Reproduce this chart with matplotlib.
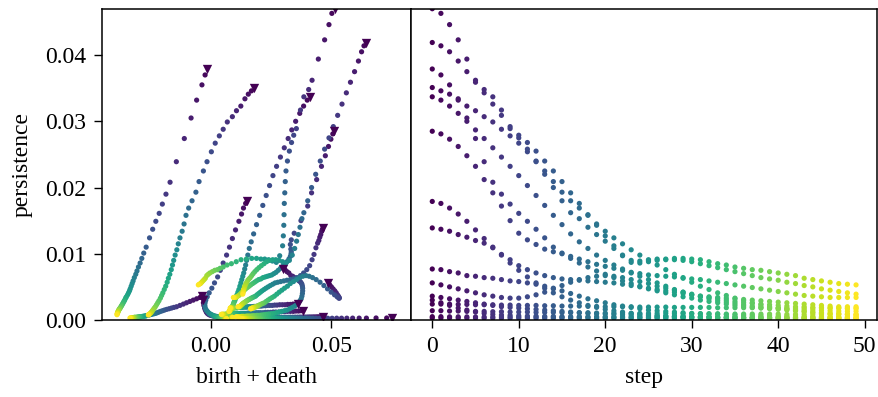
import numpy as np
import matplotlib
matplotlib.use('Agg')
import matplotlib.pyplot as plt

plt.rcParams['font.family'] = ['Liberation Serif', 'DejaVu Serif']
plt.rcParams['font.size'] = 17

# persistence (p) and birth + death (bd) of each tracked feature, per step, in units of 1e-3
p_a = [47.0, 46.3, 44.6, 42.3, 39.4, 36.2, 34.8, 33.7, 31.7, 28.9,
       27.9, 26.8, 25.5, 24.0, 22.5, 20.9, 19.2, 17.6, 15.9, 14.3,
       12.7, 11.2, 9.7, 8.7, 8.9, 9.1, 9.2, 9.2, 9.3, 9.3,
       9.2, 9.1, 8.8, 8.5, 8.3, 8.0, 7.8, 7.6, 7.5, 7.3,
       7.1, 6.9, 6.7, 6.3, 6.1, 5.9, 5.7, 5.5, 5.4, 5.3]
bd_a = [51.4, 50.2, 49.0, 47.2, 44.6, 42.0, 40.6, 38.6, 37.2, 35.5,
        34.4, 33.5, 32.6, 31.8, 31.2, 30.9, 30.7, 30.5, 30.4, 30.3,
        30.1, 29.8, 28.6, 27.2, 25.6, 24.0, 22.4, 20.8, 19.0, 17.0,
        14.8, 12.6, 10.6, 8.6, 6.8, 5.2, 3.9, 2.8, 1.7, 0.7,
        -0.3, -1.0, -1.6, -2.2, -2.7, -3.2, -3.7, -4.2, -4.7, -5.1]

p_b = [41.9, 41.4, 40.5, 39.1, 37.5, 35.9, 34.3, 32.6, 30.9, 29.2,
       27.5, 25.8, 24.0, 22.0, 20.0, 18.0, 16.2, 15.3, 14.0, 12.9,
       11.9, 10.8, 9.8, 9.0, 8.6, 8.8, 9.0, 9.1, 9.1, 9.0,
       8.8, 8.5, 8.2, 7.9, 7.6, 7.3, 7.0, 6.7, 6.4, 6.2,
       6.0, 5.7, 5.5, 5.2, 5.0, 4.7, 4.5, 4.3, 4.1, 3.9]
bd_b = [64.2, 63.5, 62.5, 61.2, 59.6, 57.9, 56.2, 54.4, 52.6, 50.8,
        49.0, 47.2, 45.4, 43.5, 41.8, 40.2, 38.6, 37.8, 37.0, 36.3,
        35.6, 34.8, 33.8, 32.6, 31.2, 29.8, 28.4, 27.0, 25.7, 24.4,
        23.2, 22.1, 21.0, 20.0, 19.1, 18.3, 17.6, 17.0, 16.4, 15.9,
        15.4, 15.0, 14.6, 14.3, 14.0, 13.8, 13.6, 13.5, 13.4, 13.3]

p_c = [37.9, 37.0, 35.5, 33.2, 30.5, 27.4, 23.9, 20.8, 19.0, 17.5,
       16.1, 14.9, 13.7, 12.4, 11.0, 10.1, 9.3, 8.6, 8.0, 7.4,
       6.9, 6.4, 5.9, 5.5, 5.1, 4.7, 4.4, 4.1, 3.8, 3.5,
       3.3, 3.0, 2.8, 2.6, 2.4, 2.2, 2.1, 1.9, 1.8, 1.7,
       1.6, 1.5, 1.4, 1.3, 1.2, 1.1, 1.05, 1.0, 0.9, 0.8]
bd_c = [-1.6, -2.3, -3.6, -5.8, -8.1, -10.9, -14.2, -16.8, -18.5, -20.0,
        -21.3, -22.7, -24.0, -25.3, -26.7, -27.7, -28.5, -29.2, -29.9, -30.5,
        -31.0, -31.6, -32.1, -32.5, -32.9, -33.3, -33.6, -34.0, -34.4, -34.9,
        -35.2, -35.6, -35.9, -36.2, -36.5, -36.8, -37.0, -37.3, -37.5, -37.7,
        -37.9, -38.0, -38.2, -38.3, -38.4, -38.5, -38.6, -38.6, -38.7, -38.8]

p_d = [35.1, 34.6, 34.1, 33.4, 32.3, 31.6, 30.7, 29.9, 28.8, 27.8,
       26.7, 25.4, 23.9, 22.5, 20.9, 19.3, 18.0, 16.9, 15.8, 14.5,
       13.4, 12.4, 11.5, 10.6, 9.8, 9.0, 8.3, 7.6, 6.9, 6.3,
       5.7, 5.1, 4.6, 4.1, 3.7, 3.3, 2.9, 2.6, 2.3, 2.0,
       1.8, 1.6, 1.4, 1.25, 1.1, 1.0, 0.9, 0.85, 0.8, 0.76]
bd_d = [18.0, 16.9, 15.6, 14.2, 12.5, 10.7, 9.0, 6.9, 5.2, 3.6,
        1.9, 0.3, -1.5, -3.0, -4.8, -6.1, -7.7, -9.1, -10.2, -11.0,
        -11.8, -12.7, -13.4, -14.0, -14.7, -15.3, -15.8, -16.3, -16.9, -17.5,
        -18.0, -18.6, -19.2, -19.8, -20.3, -20.8, -21.4, -21.9, -22.4, -22.9,
        -23.3, -23.7, -24.1, -24.4, -24.7, -25.0, -25.3, -25.5, -25.7, -25.8]

p_e = [33.7, 33.2, 32.3, 31.2, 30.0, 28.7, 27.4, 26.0, 24.6, 23.2,
       21.8, 20.3, 18.8, 17.3, 15.8, 14.4, 13.0, 11.8, 10.8, 9.8,
       9.0, 8.3, 7.7, 7.1, 6.6, 6.1, 5.6, 5.1, 4.6, 4.2,
       3.8, 3.5, 3.2, 2.9, 2.7, 2.5, 2.3, 2.1, 2.0, 1.9,
       1.8, 1.7, 1.6, 1.55, 1.5, 1.45, 1.4, 1.35, 1.3, 1.3]
bd_e = [41.3, 40.0, 38.5, 36.9, 35.2, 33.6, 32.1, 30.5, 28.9, 27.3,
        25.8, 24.4, 23.0, 21.6, 20.3, 19.0, 17.8, 16.8, 16.0, 15.4,
        14.9, 14.5, 14.1, 13.7, 13.3, 12.9, 12.5, 12.1, 11.7, 11.3,
        10.9, 10.6, 10.3, 10.0, 9.7, 9.5, 9.3, 9.1, 8.9, 8.7,
        8.5, 8.4, 8.3, 8.2, 8.1, 8.0, 7.9, 7.8, 7.7, 7.6]

p_f = [28.5, 28.1, 27.3, 26.2, 24.8, 23.2, 21.2, 19.2, 17.2, 15.0,
       13.1, 12.1, 11.4, 10.7, 10.3, 10.0, 9.6, 9.2, 8.8, 8.4,
       8.1, 7.8, 7.5, 7.2, 7.0, 6.8, 6.7, 6.6, 6.5, 6.4,
       6.2, 6.1, 5.9, 5.7, 5.5, 5.3, 5.1, 4.9, 4.7, 4.5,
       4.3, 4.1, 3.9, 3.7, 3.6, 3.5, 3.4, 3.4, 3.4, 3.4]
bd_f = [51.1, 50.6, 49.8, 48.8, 47.5, 45.9, 43.9, 41.8, 40.2, 37.4,
        34.6, 33.4, 33.0, 33.2, 33.4, 33.3, 33.0, 32.4, 31.6, 30.7,
        29.8, 28.9, 28.0, 27.1, 26.2, 25.3, 24.4, 23.5, 22.6, 21.7,
        20.8, 19.9, 19.0, 18.2, 17.4, 16.6, 15.9, 15.2, 14.5, 13.9,
        13.3, 12.7, 12.2, 11.7, 11.2, 10.8, 10.4, 10.0, 9.7, 9.4]

p_g = [17.9, 17.6, 16.9, 16.0, 14.9, 13.6, 12.3, 11.0, 9.8, 8.6,
       7.5, 6.5, 5.6, 4.8, 4.1, 3.5, 3.0, 2.6, 2.2, 1.9,
       1.6, 1.4, 1.2, 1.0, 0.9, 0.8, 0.7, 0.6, 0.55, 0.5,
       0.45, 0.4, 0.4, 0.35, 0.35, 0.3, 0.3, 0.3, 0.3, 0.25,
       0.25, 0.25, 0.25, 0.2, 0.2, 0.2, 0.2, 0.2, 0.2, 0.2]
bd_g = [14.9, 14.5, 13.6, 12.8, 11.7, 10.3, 9.0, 7.8, 6.6, 5.2,
        4.0, 2.9, 1.6, 0.5, -0.6, -1.4, -2.0, -2.3, -2.4, -2.3,
        -2.0, -1.6, -1.1, -0.6, -0.1, 0.4, 0.9, 1.4, 1.8, 2.2,
        2.6, 3.0, 3.4, 3.7, 4.0, 4.3, 4.6, 4.9, 5.1, 5.3,
        5.5, 5.7, 5.9, 6.0, 6.1, 6.2, 6.3, 6.4, 6.5, 6.6]

p_h = [13.9, 13.7, 13.4, 12.9, 12.5, 12.0, 11.6, 10.9, 9.9, 9.1,
       8.2, 7.6, 7.1, 6.7, 6.4, 6.2, 6.1, 6.0, 5.9, 5.8,
       5.7, 5.6, 5.4, 5.2, 5.0, 4.8, 4.6, 4.4, 4.2, 4.0,
       3.8, 3.6, 3.5, 3.4, 3.3, 3.2, 3.1, 3.0, 2.9, 2.8,
       2.7, 2.6, 2.5, 2.4, 2.3, 2.2, 2.1, 2.0, 2.0, 2.0]
bd_h = [46.5, 46.3, 46.0, 45.6, 45.2, 44.8, 44.3, 43.6, 42.8, 42.0,
        41.0, 39.8, 38.5, 37.2, 35.8, 34.4, 33.0, 31.6, 30.3, 29.0,
        27.8, 26.7, 25.7, 24.7, 23.8, 22.9, 22.1, 21.3, 20.6, 19.9,
        19.2, 18.6, 18.0, 17.4, 16.9, 16.4, 15.9, 15.4, 15.0, 14.6,
        14.2, 13.8, 13.4, 13.1, 12.8, 12.5, 12.2, 11.9, 11.6, 11.3]

p_i = [7.7, 7.6, 7.3, 7.1, 6.7, 6.6, 6.4, 6.3, 6.1, 5.9,
       5.8, 5.6, 5.4, 5.1, 4.8, 4.4, 4.0, 3.6, 3.2, 2.9,
       2.6, 2.3, 2.1, 1.9, 1.7, 1.5, 1.4, 1.3, 1.2, 1.1,
       1.0, 0.95, 0.9, 0.85, 0.8, 0.75, 0.7, 0.7, 0.65, 0.65,
       0.6, 0.6, 0.6, 0.55, 0.55, 0.55, 0.5, 0.5, 0.5, 0.5]
bd_i = [30.0, 30.8, 31.6, 32.4, 33.2, 34.0, 34.7, 35.4, 36.0, 36.6,
        37.1, 37.5, 37.8, 38.0, 38.1, 38.1, 38.0, 37.8, 37.5, 37.0,
        36.4, 35.6, 34.8, 33.8, 32.8, 31.7, 30.6, 29.5, 28.4, 27.3,
        26.2, 25.1, 24.0, 23.0, 22.0, 21.0, 20.1, 19.2, 18.3, 17.5,
        16.7, 15.9, 15.1, 14.4, 13.7, 13.0, 12.4, 11.8, 11.2, 10.6]

p_j = [5.6, 5.3, 5.0, 4.7, 4.4, 4.1, 3.8, 3.6, 3.4, 3.3,
       3.3, 3.5, 3.8, 4.2, 4.7, 5.2, 5.7, 6.1, 6.4, 6.6,
       6.7, 6.6, 6.4, 6.1, 5.8, 5.5, 5.1, 4.8, 4.5, 4.2,
       3.9, 3.6, 3.4, 3.2, 3.0, 2.8, 2.6, 2.5, 2.4, 2.3,
       2.2, 2.1, 2.0, 2.0, 1.9, 1.9, 1.8, 1.8, 1.7, 1.7]
bd_j = [48.6, 49.3, 50.0, 50.7, 51.4, 52.0, 52.5, 52.9, 53.2, 53.3,
        53.1, 52.4, 51.3, 49.9, 48.4, 46.9, 45.3, 43.7, 42.2, 40.8,
        39.5, 38.2, 36.9, 35.6, 34.3, 33.0, 31.8, 30.6, 29.5, 28.4,
        27.4, 26.4, 25.5, 24.6, 23.8, 23.0, 22.3, 21.6, 21.0, 20.4,
        19.9, 19.4, 18.9, 18.5, 18.1, 17.7, 17.4, 17.1, 16.8, 16.5]

p_k = [3.6, 3.4, 3.2, 3.0, 2.8, 2.6, 2.4, 2.2, 2.0, 1.9,
       1.8, 1.7, 1.6, 1.5, 1.4, 1.3, 1.2, 1.1, 1.0, 0.95,
       0.9, 0.85, 0.8, 0.75, 0.7, 0.65, 0.6, 0.6, 0.55, 0.55,
       0.5, 0.5, 0.5, 0.45, 0.45, 0.45, 0.4, 0.4, 0.4, 0.4,
       0.4, 0.35, 0.35, 0.35, 0.35, 0.3, 0.3, 0.3, 0.3, 0.3]
bd_k = [-3.7, -4.4, -5.8, -7.2, -8.6, -10.0, -11.3, -12.7, -14.1, -15.2,
        -16.2, -17.2, -18.2, -19.1, -19.9, -20.7, -21.4, -22.1, -22.8, -23.4,
        -24.0, -24.6, -25.1, -25.6, -26.1, -26.6, -27.0, -27.4, -27.8, -28.2,
        -28.6, -29.0, -29.3, -29.6, -29.9, -30.2, -30.5, -30.8, -31.1, -31.4,
        -31.6, -31.8, -32.0, -32.2, -32.4, -32.6, -32.8, -33.0, -33.2, -33.4]

p_l = [0.3, 0.3, 0.3, 0.28, 0.28, 0.28, 0.27, 0.27, 0.27, 0.26,
       0.26, 0.26, 0.26, 0.25, 0.25, 0.25, 0.25, 0.25, 0.25, 0.25,
       0.25, 0.25, 0.24, 0.24, 0.24, 0.24, 0.24, 0.24, 0.24, 0.24,
       0.23, 0.23, 0.23, 0.23, 0.23, 0.23, 0.23, 0.23, 0.22, 0.22,
       0.22, 0.22, 0.22, 0.22, 0.22, 0.22, 0.22, 0.22, 0.22, 0.22]
bd_l = [75.3, 72.9, 68.5, 64.5, 61.5, 58.8, 56.4, 54.2, 52.2, 50.3,
        48.5, 46.8, 45.2, 43.7, 42.3, 41.0, 39.7, 38.5, 37.3, 36.2,
        35.1, 34.0, 33.0, 32.0, 31.0, 30.0, 29.1, 28.2, 27.3, 26.4,
        25.5, 24.7, 23.9, 23.1, 22.3, 21.5, 20.8, 20.1, 19.4, 18.7,
        18.0, 17.4, 16.8, 16.2, 15.6, 15.0, 14.5, 14.0, 13.5, 13.0]

p_m = [3.0, 2.6, 2.2, 1.8, 1.5, 1.2, 1.0, 0.85, 0.75, 0.7,
       0.65, 0.6, 0.6, 0.55, 0.55, 0.5, 0.5, 0.5, 0.5, 0.5,
       0.5, 0.48, 0.48, 0.47, 0.47, 0.46, 0.46, 0.45, 0.45, 0.45,
       0.44, 0.44, 0.43, 0.43, 0.42, 0.42, 0.42, 0.41, 0.41, 0.4,
       0.4, 0.4, 0.4, 0.39, 0.39, 0.39, 0.38, 0.38, 0.38, 0.38]
bd_m = [-3.2, -3.0, -2.8, -2.5, -2.2, -1.8, -1.4, -0.9, -0.4, 0.1,
        0.6, 1.0, 1.5, 1.9, 2.4, 2.8, 3.1, 3.5, 3.8, 4.2,
        4.5, 4.8, 5.0, 5.3, 5.6, 5.8, 6.1, 6.3, 6.5, 6.7,
        6.9, 7.1, 7.3, 7.5, 7.6, 7.8, 7.9, 8.1, 8.2, 8.3,
        8.4, 8.5, 8.6, 8.7, 8.8, 8.9, 9.0, 9.0, 9.1, 9.2]

p_n = [1.4, 1.4, 1.35, 1.35, 1.3, 1.3, 1.3, 1.25, 1.25, 1.2,
       1.2, 1.2, 1.15, 1.15, 1.15, 1.1, 1.1, 1.1, 1.1, 1.05,
       1.05, 1.05, 1.05, 1.0, 1.0, 1.0, 1.0, 1.0, 0.95, 0.95,
       0.95, 0.95, 0.95, 0.95, 0.9, 0.9, 0.9, 0.9, 0.9, 0.9,
       0.9, 0.85, 0.85, 0.85, 0.85, 0.85, 0.85, 0.85, 0.85, 0.85]
bd_n = [38.3, 37.4, 36.4, 35.3, 34.2, 33.0, 31.8, 30.6, 29.4, 28.2,
        27.0, 25.9, 24.8, 23.7, 22.7, 21.7, 20.7, 19.8, 18.9, 18.0,
        17.2, 16.4, 15.6, 14.9, 14.2, 13.5, 12.9, 12.3, 11.7, 11.1,
        10.6, 10.1, 9.6, 9.1, 8.7, 8.3, 7.9, 7.5, 7.1, 6.8,
        6.5, 6.2, 5.9, 5.6, 5.4, 5.2, 5.0, 4.8, 4.6, 4.4]

p_o = [2.4, 2.4, 2.4, 2.35, 2.35, 2.3, 2.3, 2.3, 2.25, 2.25,
       2.2, 2.2, 2.2, 2.15, 2.15, 2.1, 2.1, 2.1, 2.05, 2.05,
       2.0, 2.0, 2.0, 2.0, 1.95, 1.95, 1.95, 1.95, 1.9, 1.9,
       1.9, 1.9, 1.9, 1.85, 1.85, 1.85, 1.85, 1.85, 1.85, 1.8,
       1.8, 1.8, 1.8, 1.8, 1.8, 1.8, 1.8, 1.8, 1.8, 1.8]
bd_o = [36.0, 35.1, 34.1, 33.0, 31.9, 30.8, 29.7, 28.6, 27.5, 26.5,
        25.5, 24.5, 23.6, 22.7, 21.8, 21.0, 20.2, 19.4, 18.7, 18.0,
        17.3, 16.7, 16.1, 15.5, 15.0, 14.5, 14.0, 13.5, 13.1, 12.7,
        12.3, 11.9, 11.5, 11.2, 10.9, 10.6, 10.3, 10.0, 9.8, 9.6,
        9.4, 9.2, 9.0, 8.8, 8.6, 8.5, 8.4, 8.3, 8.2, 8.1]

p_q = [0.5, 0.5, 0.48, 0.48, 0.47, 0.47, 0.46, 0.46, 0.45, 0.45,
       0.44, 0.44, 0.43, 0.43, 0.42, 0.42, 0.41, 0.41, 0.4, 0.4,
       0.4, 0.39, 0.39, 0.38, 0.38, 0.37, 0.37, 0.36, 0.36, 0.36,
       0.35, 0.35, 0.35, 0.34, 0.34, 0.34, 0.33, 0.33, 0.33, 0.33,
       0.32, 0.32, 0.32, 0.32, 0.31, 0.31, 0.31, 0.31, 0.3, 0.3]
bd_q = [46.5, 45.9, 45.2, 44.4, 43.6, 42.7, 41.8, 40.9, 40.0, 39.0,
        38.0, 37.0, 36.0, 35.0, 34.0, 33.0, 32.1, 31.2, 30.3, 29.4,
        28.5, 27.6, 26.8, 26.0, 25.2, 24.4, 23.6, 22.9, 22.2, 21.5,
        20.8, 20.1, 19.5, 18.9, 18.3, 17.7, 17.1, 16.6, 16.1, 15.6,
        15.1, 14.6, 14.2, 13.8, 13.4, 13.0, 12.6, 12.2, 11.9, 11.6]

persistence = [p_a, p_b, p_c, p_d, p_e, p_f, p_g, p_h, p_i, p_j, p_k, p_l, p_m, p_n, p_o, p_q]
birth_death = [bd_a, bd_b, bd_c, bd_d, bd_e, bd_f, bd_g, bd_h, bd_i, bd_j, bd_k, bd_l, bd_m, bd_n, bd_o, bd_q]

n_steps = 50
steps = np.arange(n_steps)

# flatten every track and sort by step so later steps end up on top
pers = np.concatenate([np.asarray(p) for p in persistence]) * 1e-3
bd = np.concatenate([np.asarray(b) for b in birth_death]) * 1e-3
step = np.tile(steps, len(persistence))
order = np.argsort(step, kind='stable')
pers, bd, step = pers[order], bd[order], step[order]
first = step == 0

fig = plt.figure(figsize=(8.79, 3.97), dpi=100)
gs = fig.add_gridspec(1, 2, width_ratios=[309, 466], wspace=0,
                      left=0.116, right=0.998, top=0.978, bottom=0.194)
ax_l = fig.add_subplot(gs[0])
ax_r = fig.add_subplot(gs[1], sharey=ax_l)

cmap = plt.get_cmap('viridis')
ax_l.scatter(bd[~first], pers[~first], c=step[~first], cmap=cmap, vmin=0, vmax=n_steps - 1,
             s=14, linewidths=0)
ax_l.scatter(bd[first], pers[first], color=cmap(0.0), marker='v', s=45, linewidths=0)
ax_r.scatter(step, pers, c=step, cmap=cmap, vmin=0, vmax=n_steps - 1, s=14, linewidths=0)

ax_l.set_ylim(0, 0.047)
ax_l.set_xlim(-0.045, 0.083)
ax_l.set_xticks([0.0, 0.05])
ax_l.set_yticks([0.0, 0.01, 0.02, 0.03, 0.04])
ax_l.xaxis.set_major_formatter(matplotlib.ticker.FormatStrFormatter('%.2f'))
ax_l.yaxis.set_major_formatter(matplotlib.ticker.FormatStrFormatter('%.2f'))
ax_r.set_xticks([0, 10, 20, 30, 40, 50])
ax_r.tick_params(axis='y', left=False, labelleft=False)

ax_l.set_xlabel('birth + death', labelpad=7)
ax_l.set_ylabel('persistence', labelpad=9)
ax_r.set_xlabel('step', labelpad=7)

for ax in (ax_l, ax_r):
    ax.tick_params(length=5.5, width=1, pad=6)
    for sp in ax.spines.values():
        sp.set_linewidth(1.1)

fig.savefig('out.png', dpi=100)
